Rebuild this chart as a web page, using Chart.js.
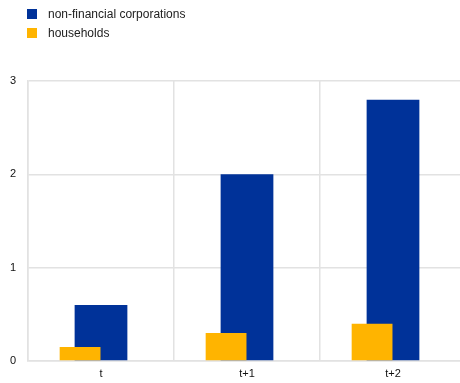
<!DOCTYPE html>
<html>
<head>
<meta charset="utf-8">
<script src="https://cdn.jsdelivr.net/npm/chart.js@4.4.1/dist/chart.umd.min.js"></script>
<style>
    html, body { margin: 0; padding: 0; background: #fff; overflow: hidden; }
    #contenedor { position: relative; width: 460px; height: 383px; overflow: hidden; }
    #leyenda { position: absolute; left: 27px; top: 4px; font: 12px "Liberation Sans", Arial, sans-serif; color: #222; }
    .item { display: flex; align-items: center; height: 19.5px; }
    .caja { width: 10px; height: 10px; margin-right: 11px; }
    canvas { position: absolute; left: 0; top: 0; }
</style>
</head>
<body>
<div id="contenedor">
    <canvas id="grafico" width="466" height="383"></canvas>
    <div id="leyenda"></div>
</div>
<script>
// Datos
const categorias = ['t', 't+1', 't+2'];
const sociedades = [0.6, 2.0, 2.8];   // non-financial corporations
const hogares = [0.15, 0.3, 0.4];     // households
const ticksY = [0, 1, 2, 3];

const azul = '#003299';
const amarillo = '#ffb400';
const gris = '#e2e2e2';
const fuente = { family: '"Liberation Sans", Arial, sans-serif', size: 11 };

// Leyenda en HTML (una fila por serie)
const series = [
    { nombre: 'non-financial corporations', color: azul },
    { nombre: 'households', color: amarillo }
];
const leyenda = document.getElementById('leyenda');
series.forEach(s => {
    const fila = document.createElement('div');
    fila.className = 'item';
    const caja = document.createElement('span');
    caja.className = 'caja';
    caja.style.background = s.color;
    const texto = document.createElement('span');
    texto.textContent = s.nombre;
    fila.appendChild(caja);
    fila.appendChild(texto);
    leyenda.appendChild(fila);
});

// Tres huecos por categoría: hogares a la izquierda, sociedades al centro,
// el tercero vacío para que las sociedades queden centradas
const ctx = document.getElementById('grafico').getContext('2d');
const chart = new Chart(ctx, {
    type: 'bar',
    data: {
        labels: categorias,
        datasets: [
            {
                label: 'households',
                data: hogares,
                backgroundColor: amarillo,
                barPercentage: 1.95
            },
            {
                label: 'non-financial corporations',
                data: sociedades,
                backgroundColor: azul,
                barPercentage: 2.52
            },
            {
                label: '',
                data: categorias.map(() => null),
                backgroundColor: 'rgba(0,0,0,0)'
            }
        ]
    },
    options: {
        responsive: false,
        animation: false,
        categoryPercentage: 0.43,
        layout: { padding: { top: 81, right: 0, left: 0, bottom: 0 } },
        plugins: {
            legend: { display: false },
            tooltip: { enabled: false }
        },
        scales: {
            x: {
                offset: true,
                afterFit: (eje) => { eje.height = 22; },
                grid: { color: gris, lineWidth: 1.5, drawTicks: false, offset: true },
                border: { color: gris, width: 1.5 },
                ticks: { color: '#111', font: fuente, padding: 6 }
            },
            y: {
                min: 0,
                max: 3,
                afterBuildTicks: (eje) => { eje.ticks = ticksY.map(v => ({ value: v })); },
                afterFit: (eje) => { eje.width = 28; },
                grid: { color: gris, lineWidth: 1.5, drawTicks: false },
                border: { color: gris, width: 1.5 },
                ticks: { color: '#111', font: fuente, padding: 12 }
            }
        }
    }
});
</script>
</body>
</html>
